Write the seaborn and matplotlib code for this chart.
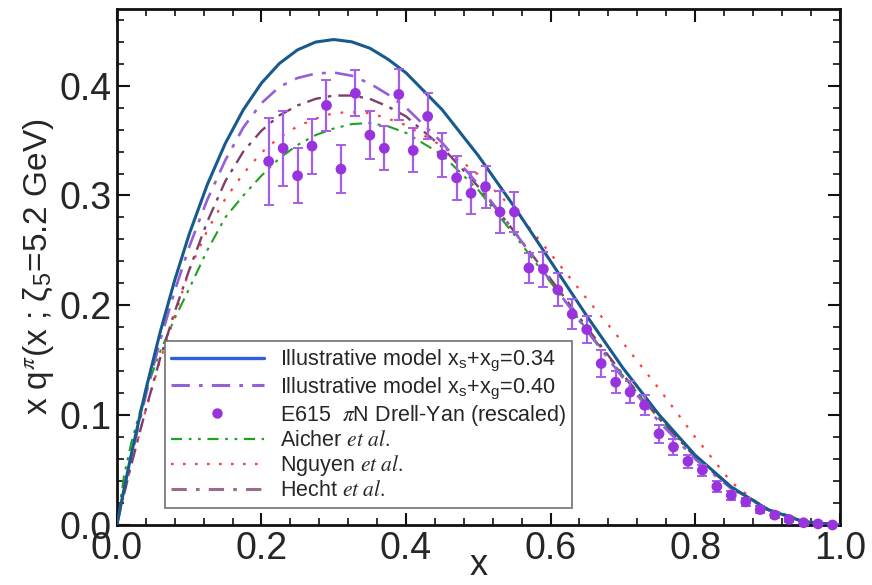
import matplotlib
matplotlib.use("Agg")
import matplotlib.pyplot as plt
from matplotlib.lines import Line2D
from matplotlib.ticker import MultipleLocator
import seaborn as sns
import pandas as pd

# ---------------- data ----------------
x_curve = [0.0, 0.01, 0.02, 0.04, 0.06, 0.08, 0.10, 0.125, 0.15, 0.175, 0.20,
           0.225, 0.25, 0.275, 0.30, 0.325, 0.35, 0.375, 0.40, 0.45, 0.50,
           0.55, 0.60, 0.65, 0.70, 0.75, 0.80, 0.85, 0.90, 0.95, 1.0]

model_034 = [0.0, 0.033, 0.0645, 0.123, 0.1757, 0.2228, 0.2646, 0.3097, 0.3474,
             0.3781, 0.4023, 0.4203, 0.4326, 0.4397, 0.442, 0.4399, 0.4341,
             0.4241, 0.4117, 0.3781, 0.3363, 0.2895, 0.2401, 0.1904, 0.143,
             0.1004, 0.0636, 0.0346, 0.0142, 0.003, 0.0]

model_040 = [0.0, 0.032, 0.062, 0.118, 0.168, 0.213, 0.253, 0.296, 0.332, 0.362,
             0.384, 0.399, 0.407, 0.411, 0.412, 0.409, 0.402, 0.392, 0.380,
             0.348, 0.310, 0.267, 0.222, 0.177, 0.134, 0.094, 0.060, 0.033,
             0.014, 0.003, 0.0]

aicher = [0.0, 0.045, 0.075, 0.122, 0.158, 0.188, 0.215, 0.250, 0.280, 0.300,
          0.318, 0.334, 0.346, 0.355, 0.361, 0.365, 0.366, 0.363, 0.357, 0.337,
          0.305, 0.264, 0.221, 0.178, 0.136, 0.097, 0.063, 0.035, 0.015, 0.004,
          0.0]

nguyen = [0.0, 0.028, 0.055, 0.105, 0.150, 0.190, 0.232, 0.268, 0.297, 0.320,
          0.339, 0.353, 0.363, 0.370, 0.375, 0.376, 0.375, 0.370, 0.364, 0.345,
          0.319, 0.287, 0.247, 0.206, 0.166, 0.124, 0.080, 0.039, 0.013, 0.003,
          0.0]

hecht = [0.0, 0.028, 0.055, 0.105, 0.152, 0.194, 0.232, 0.276, 0.313, 0.340,
         0.359, 0.373, 0.382, 0.388, 0.391, 0.391, 0.388, 0.381, 0.372, 0.344,
         0.308, 0.267, 0.224, 0.180, 0.137, 0.097, 0.062, 0.034, 0.014, 0.003,
         0.0]

x_e615 = [0.21, 0.23, 0.25, 0.27, 0.29, 0.31, 0.33, 0.35, 0.37, 0.39, 0.41,
          0.43, 0.45, 0.47, 0.49, 0.51, 0.53, 0.55, 0.57, 0.59, 0.61, 0.63,
          0.65, 0.67, 0.69, 0.71, 0.73, 0.75, 0.77, 0.79, 0.81, 0.83, 0.85,
          0.87, 0.89, 0.91, 0.93, 0.95, 0.97, 0.99]
y_e615 = [0.331, 0.343, 0.318, 0.345, 0.382, 0.324, 0.393, 0.355, 0.343, 0.392,
          0.341, 0.372, 0.337, 0.316, 0.302, 0.308, 0.285, 0.285, 0.234, 0.233,
          0.214, 0.192, 0.178, 0.147, 0.130, 0.121, 0.109, 0.083, 0.071, 0.058,
          0.050, 0.035, 0.027, 0.021, 0.014, 0.009, 0.005, 0.002, 0.001, 0.000]
err_e615 = [0.040, 0.034, 0.025, 0.025, 0.023, 0.022, 0.021, 0.022, 0.020, 0.023,
            0.020, 0.021, 0.020, 0.020, 0.019, 0.019, 0.019, 0.018, 0.014, 0.016,
            0.015, 0.014, 0.012, 0.012, 0.010, 0.010, 0.009, 0.008, 0.007, 0.006,
            0.005, 0.005, 0.004, 0.004, 0.003, 0.003, 0.002, 0.002, 0.001, 0.001]

labels = [
    r"Illustrative model x$_{\mathregular{s}}$+x$_{\mathregular{g}}$=0.34",
    r"Illustrative model x$_{\mathregular{s}}$+x$_{\mathregular{g}}$=0.40",
    r"E615  $\pi$N Drell-Yan (rescaled)",
    r"Aicher $\mathit{et\ al.}$",
    r"Nguyen $\mathit{et\ al.}$",
    r"Hecht $\mathit{et\ al.}$",
]

# ---------------- style ----------------
sns.set_theme(style="ticks")
plt.rcParams["font.family"] = ["Liberation Sans", "DejaVu Sans"]
plt.rcParams["mathtext.fontset"] = "stix"

c_blue = "#175a8e"
c_purple = "#9460d8"
c_pts = "#9933dd"
c_err = "#a55ee8"
c_green = "#22a022"
c_red = "#ff3b3b"
c_hecht = "#7e4069"

fig = plt.figure(figsize=(8.72, 5.85), dpi=100)
ax = fig.add_axes([0.134, 0.1026, 0.829, 0.8824])

df = pd.DataFrame({"x": x_curve, "m034": model_034, "m040": model_040,
                   "aicher": aicher, "nguyen": nguyen, "hecht": hecht})

sns.lineplot(data=df, x="x", y="aicher", ax=ax, color=c_green, lw=1.5,
             linestyle=(0, (6, 3, 1.5, 3, 1.5, 3)), zorder=2)
sns.lineplot(data=df, x="x", y="nguyen", ax=ax, color=c_red, lw=1.6,
             linestyle=(0, (1.2, 4.5)), zorder=2)
sns.lineplot(data=df, x="x", y="hecht", ax=ax, color=c_hecht, lw=1.7,
             linestyle=(0, (6, 3, 1.5, 3)), zorder=2)
sns.lineplot(data=df, x="x", y="m040", ax=ax, color=c_purple, lw=1.9,
             linestyle=(0, (7, 3.5, 1.5, 3.5)), zorder=3)
sns.lineplot(data=df, x="x", y="m034", ax=ax, color=c_blue, lw=2.2,
             linestyle="-", zorder=4)

ax.errorbar(x_e615, y_e615, yerr=err_e615, fmt="none", ecolor=c_err,
            elinewidth=1.6, capsize=3.5, capthick=1.4, zorder=5, clip_on=False)
sns.scatterplot(x=x_e615, y=y_e615, ax=ax, color=c_pts, s=60,
                edgecolor="none", zorder=6, clip_on=False)

ax.set_xlim(0, 1.0)
ax.set_ylim(0, 0.47)
ax.xaxis.set_major_locator(MultipleLocator(0.2))
ax.xaxis.set_minor_locator(MultipleLocator(0.04))
ax.yaxis.set_major_locator(MultipleLocator(0.1))
ax.yaxis.set_minor_locator(MultipleLocator(0.02))
ax.xaxis.set_major_formatter(plt.FormatStrFormatter("%.1f"))
ax.yaxis.set_major_formatter(plt.FormatStrFormatter("%.1f"))
ax.tick_params(which="both", direction="in", top=True, right=True,
               color="#111111")
ax.tick_params(which="major", length=9, width=1.5, labelsize=27, pad=4)
ax.tick_params(which="minor", length=5, width=1.2)
for sp in ax.spines.values():
    sp.set_linewidth(2.0)
    sp.set_color("#111111")

ax.set_xlabel("x", fontsize=26, labelpad=-13)
ax.set_ylabel(r"x q$^{\pi}$(x ; ζ$_{\mathregular{5}}$=5.2 GeV)", fontsize=24,
              labelpad=2)

handles = [
    Line2D([], [], color="#2f5fd8", lw=2.4, ls="-"),
    Line2D([], [], color=c_purple, lw=2.2, ls=(0, (6, 3, 1.2, 3))),
    Line2D([], [], color=c_pts, marker="o", ls="none", markersize=7.5,
           markeredgecolor="none"),
    Line2D([], [], color=c_green, lw=1.6, ls=(0, (5, 3, 1.2, 3, 1.2, 3))),
    Line2D([], [], color=c_red, lw=1.6, ls=(0, (1.2, 4.2))),
    Line2D([], [], color="#9b6a8e", lw=2.2, ls=(0, (5, 3, 1.2, 3))),
]
leg = ax.legend(handles, labels, loc="lower left",
                bbox_to_anchor=(0.066, 0.033), borderaxespad=0,
                fontsize=15.5, handlelength=4.3, handletextpad=0.75,
                labelspacing=0.1, borderpad=0.3, fancybox=False,
                frameon=True)
leg.get_frame().set_edgecolor("#666666")
leg.get_frame().set_linewidth(1.4)
leg.set_zorder(10)

fig.savefig("out.png", dpi=100)
